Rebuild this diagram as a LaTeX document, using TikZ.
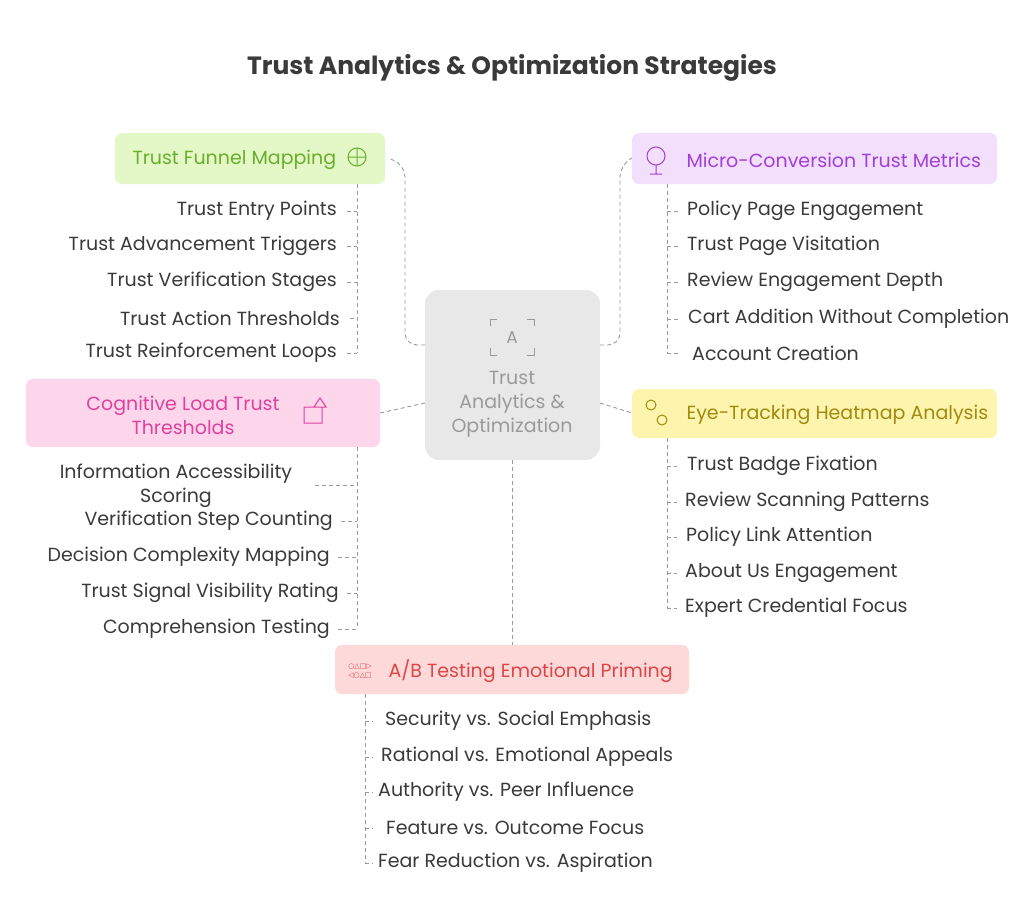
\documentclass[tikz,border=0pt]{standalone}
\usepackage{fontspec}
\setmainfont{Poppins}
\newfontfamily\symfont{DejaVu Sans}
\usetikzlibrary{positioning}
\definecolor{linegray}{HTML}{9A9A9A}
\definecolor{centerfill}{HTML}{E8E8E8}
\definecolor{greenfill}{HTML}{E3F8C6}
\definecolor{greentext}{HTML}{6AAE2A}
\definecolor{purplefill}{HTML}{F1DFFC}
\definecolor{purpletext}{HTML}{A23FD8}
\definecolor{pinkfill}{HTML}{FDD6EC}
\definecolor{pinktext}{HTML}{E0409E}
\definecolor{yellowfill}{HTML}{FDF5AE}
\definecolor{yellowtext}{HTML}{A08A10}
\definecolor{redfill}{HTML}{FDD9D9}
\definecolor{redtext}{HTML}{E04545}
\definecolor{itemtext}{HTML}{3A3A3A}
\tikzset{
  item/.style={font=\fontsize{19}{22}\selectfont, text=itemtext, inner sep=0pt},
  itemL/.style={item, anchor=west},
  itemR/.style={item, anchor=east},
  topicfont/.style={font=\fontsize{19}{24}\selectfont},
  ln/.style={draw=linegray, dashed, dash pattern=on 4pt off 3pt, line width=0.9pt},
}
\begin{document}
\begin{tikzpicture}[x=1pt, y=-1pt]
    \useasboundingbox[fill=white] (0,0) rectangle (1024,923);

    \node [font=\fontsize{25}{28}\selectfont\bfseries, text=itemtext] (title) at (512,68) {Trust Analytics \& Optimization Strategies};

    % center
    \fill[centerfill, rounded corners=14pt] (425,290) rectangle (600,460);
    \node [topicfont, text=linegray, align=center] (centertext) at (512,404) {Trust\\Analytics \&\\Optimization};
    \draw[linegray, line width=0.9pt] (497,319) -- (490,319) -- (490,326) (527,319) -- (534,319) -- (534,326)
        (497,355) -- (490,355) -- (490,348) (527,355) -- (534,355) -- (534,348);
    \node [font=\fontsize{17}{19}\selectfont, text=linegray] (centericon) at (512,338) {A};

    % topic boxes
    \fill[greenfill, rounded corners=7pt] (115,133) rectangle (385,184);
    \node [topicfont, text=greentext, anchor=west] (funnel) at (129,160) {Trust Funnel Mapping};
    \draw[greentext, line width=1pt] (357,157) circle (9pt) (348,157) -- (366,157) (357,148) -- (357,166);
    \fill[purplefill, rounded corners=7pt] (632,133) rectangle (997,184);
    \node [topicfont, text=purpletext, anchor=west] (micro) at (683,160) {Micro-Conversion Trust Metrics};
    \draw[purpletext, line width=1pt] (656,156) circle (9pt) (656,165) -- (656,174) (650,174) -- (662,174);
    \fill[pinkfill, rounded corners=7pt] (26,379) rectangle (380,447);
    \node [topicfont, text=pinktext, align=center] (cognitive) at (183,415) {Cognitive Load Trust\\Thresholds};
    \draw[pinktext, line width=1pt] (304,407) rectangle (322,423) (314,407) -- (320,398) -- (326,407) -- cycle;
    \fill[yellowfill, rounded corners=7pt] (632,389) rectangle (997,438);
    \node [topicfont, text=yellowtext, anchor=west] (eye) at (683,415) {Eye-Tracking Heatmap Analysis};
    \draw[yellowtext, line width=1pt] (651,405) circle (5pt) (662,420) circle (5pt);
    \fill[redfill, rounded corners=7pt] (335,645) rectangle (689,694);
    \node [topicfont, text=redtext, anchor=west] (abtest) at (385,671) {A/B Testing Emotional Priming};
    \node [font=\symfont\fontsize{7}{9}\selectfont, text=redtext, align=center] (abicon) at (360,671) {○△□▷\\◁○△□};

    % funnel items
    \node [itemR] (f1) at (337,211) {Trust Entry Points};
    \node [itemR] (f2) at (337,246) {Trust Advancement Triggers};
    \node [itemR] (f3) at (337,282) {Trust Verification Stages};
    \node [itemR] (f4) at (340,318) {Trust Action Thresholds};
    \node [itemR] (f5) at (337,353) {Trust Reinforcement Loops};
    % micro items
    \node [itemL] (m1) at (687,211) {Policy Page Engagement};
    \node [itemL] (m2) at (687,246) {Trust Page Visitation};
    \node [itemL] (m3) at (687,282) {Review Engagement Depth};
    \node [itemL] (m4) at (688,319) {Cart Addition Without Completion};
    \node [itemL] (m5) at (692,353) {Account Creation};
    % cognitive items
    \node [item, align=center, font=\fontsize{19}{24}\selectfont] (c1) at (176,486) {Information Accessibility\\Scoring};
    \node [itemR] (c2) at (333,521) {Verification Step Counting};
    \node [itemR] (c3) at (330,557) {Decision Complexity Mapping};
    \node [itemR] (c4) at (339,593) {Trust Signal Visibility Rating};
    \node [itemR] (c5) at (330,629) {Comprehension Testing};
    % eye items
    \node [itemL] (e1) at (687,466) {Trust Badge Fixation};
    \node [itemL] (e2) at (685,502) {Review Scanning Patterns};
    \node [itemL] (e3) at (686,537) {Policy Link Attention};
    \node [itemL] (e4) at (685,573) {About Us Engagement};
    \node [itemL] (e5) at (685,608) {Expert Credential Focus};
    % a/b items
    \node [itemL] (a1) at (385,721) {Security vs. Social Emphasis};
    \node [itemL] (a2) at (381,757) {Rational vs. Emotional Appeals};
    \node [itemL] (a3) at (378,792) {Authority vs. Peer Influence};
    \node [itemL] (a4) at (386,828) {Feature vs. Outcome Focus};
    \node [itemL] (a5) at (378,863) {Fear Reduction vs. Aspiration};

    % center to topics
    \draw [ln, rounded corners=12pt] (425,345) -- (405,345) -- (405,165) -- (388,158);
    \draw [ln, rounded corners=12pt] (600,345) -- (620,345) -- (620,165) -- (632,158);
    \draw [ln] (425,403) -- (380,413);
    \draw [ln] (600,403) -- (632,413);
    \draw [ln] (512,460) -- (512,645);

    % branches
    \draw [ln] (357,184) -- (357,353);
    \foreach \n in {f1,f2,f3,f4,f5} \draw [ln] (\n.east) ++(10pt,0) -- (\n.east -| 357,0);
    \draw [ln] (667,184) -- (667,353);
    \foreach \n in {m1,m2,m3,m4,m5} \draw [ln] (667,0 |- \n.west) -- ++(12pt,0);
    \draw [ln] (357,447) -- (357,629);
    \draw [ln] (315,485) -- (357,485);
    \foreach \n in {c2,c3,c4,c5} \draw [ln] (\n.east) ++(8pt,0) -- (\n.east -| 357,0);
    \draw [ln] (667,438) -- (667,608);
    \foreach \n in {e1,e2,e3,e4,e5} \draw [ln] (667,0 |- \n.west) -- ++(10pt,0);
    \draw [ln] (365,694) -- (365,863);
    \foreach \n in {a1,a2,a3,a4,a5} \draw [ln] (365,0 |- \n.west) -- ++(8pt,0);
\end{tikzpicture}
\end{document}
